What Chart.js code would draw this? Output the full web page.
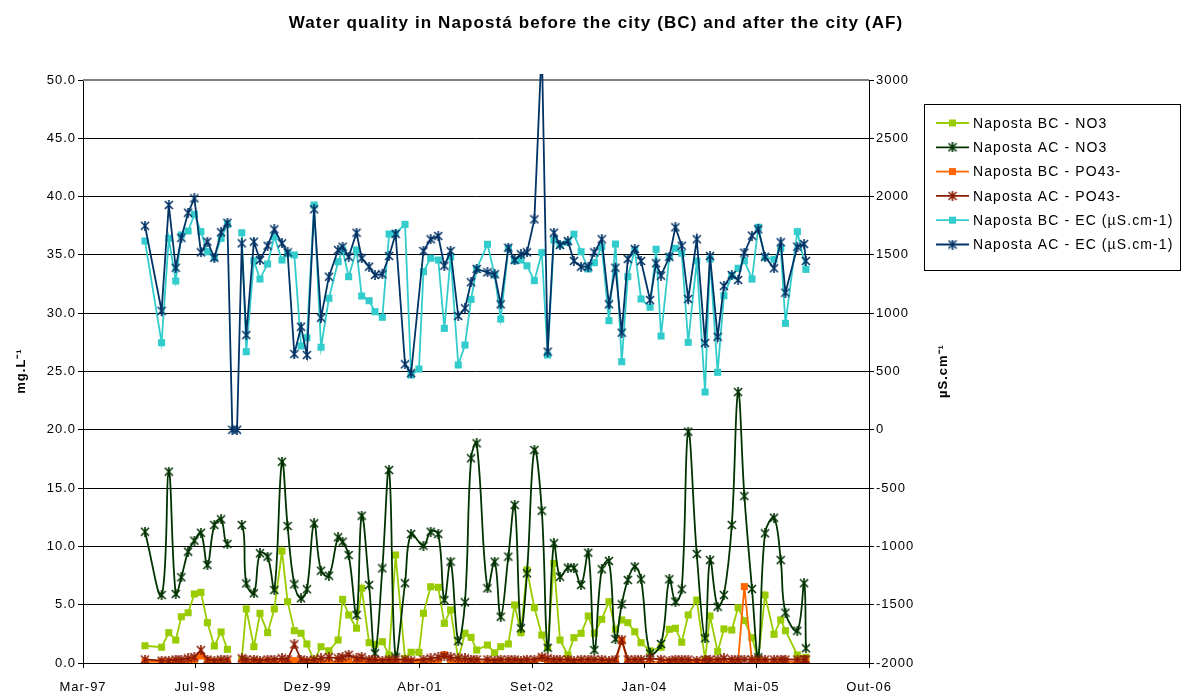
<!DOCTYPE html>
<html><head><meta charset="utf-8">
<script src="https://cdn.jsdelivr.net/npm/chart.js@4/dist/chart.umd.min.js"></script>
<style>html,body{margin:0;padding:0;background:#fff;}#wrap{width:1186px;height:697px;}</style>
</head><body><div id="wrap"><canvas id="c" width="1186" height="697"></canvas></div>
<script>
const chartTitle = 'Water quality in Napostá before the city (BC) and after the city (AF)';
const leftAxisTitle = 'mg.L⁻¹';
const rightAxisTitle = 'µS.cm⁻¹';
const monthNames = ['Jan','Fev','Mar','Abr','Mai','Jun','Jul','Ago','Set','Out','Nov','Dez'];
const seriesNames = ['Naposta BC - NO3','Naposta AC - NO3','Naposta BC - PO43-','Naposta AC - PO43-','Naposta BC - EC (µS.cm-1)','Naposta AC - EC (µS.cm-1)'];

const sampleDates = [
 '1997-12-12','1998-02-24','1998-03-28','1998-04-28','1998-05-23','1998-06-22','1998-07-20','1998-08-18','1998-09-16','1998-10-17',
 '1998-11-16','1998-12-14','1999-01-05','1999-01-26','1999-02-16','1999-03-08','1999-04-11','1999-05-08','1999-06-11','1999-07-11',
 '1999-08-14','1999-09-08','1999-10-08','1999-11-07','1999-12-03','2000-01-04','2000-02-04','2000-03-10','2000-04-20','2000-05-10',
 '2000-06-06','2000-07-11','2000-08-03','2000-09-05','2000-10-01','2000-11-03','2000-12-03','2001-01-01','2001-02-12','2001-03-11',
 '2001-04-15','2001-05-05','2001-06-06','2001-07-10','2001-08-06','2001-09-03','2001-10-07','2001-11-06','2001-12-03','2001-12-28',
 '2002-02-14','2002-03-18','2002-04-14','2002-05-18','2002-06-15','2002-07-13','2002-08-09','2002-09-11','2002-10-14','2002-11-09',
 '2002-12-07','2003-01-03','2003-02-07','2003-03-06','2003-04-07','2003-05-09','2003-06-05','2003-07-08','2003-08-09','2003-09-07',
 '2003-10-05','2003-11-01','2003-12-02','2003-12-30','2004-02-08','2004-03-06','2004-03-28','2004-05-04','2004-05-31','2004-06-28',
 '2004-07-27','2004-09-03','2004-10-10','2004-11-01','2004-12-05','2005-01-02','2005-02-06','2005-03-06','2005-04-03','2005-05-07',
 '2005-06-04','2005-07-04','2005-08-13','2005-09-12','2005-10-03','2005-11-25','2005-12-25','2006-01-02'];

const no3BC = [
 1.48,1.35,2.60,1.97,3.97,4.31,5.92,6.06,3.46,1.46,
 2.66,1.17,null,null,0.3,4.63,1.40,4.26,2.60,4.63,
 9.6,5.26,2.77,2.55,1.63,0.2,1.40,1.05,1.97,5.46,
 4.12,2.98,6.41,1.74,1.60,1.83,0.69,9.26,0.4,0.92,
 0.92,4.26,6.54,6.49,3.40,4.55,0.3,2.55,2.20,1.11,
 1.54,0.88,1.40,1.63,4.97,2.60,7.98,4.74,2.40,1.31,
 8.55,1.97,0.69,2.17,2.55,4.03,2.55,3.75,5.26,2.89,
 3.69,3.46,2.68,1.74,1.05,null,1.35,2.89,2.98,1.78,
 4.12,5.40,0.3,4.03,0.97,2.92,2.83,4.74,3.63,2.17,
 0.3,5.83,2.46,3.69,2.77,0.69,null,0.49];

const no3AC = [
 11.26,5.83,16.41,5.92,7.35,9.55,10.49,11.17,8.40,11.84,
 12.32,10.21,null,null,11.84,6.82,5.98,9.41,9.12,6.26,
 17.26,11.75,6.75,5.55,6.32,11.98,7.92,7.49,10.78,10.40,
 9.26,4.12,12.63,6.69,0.83,8.12,16.55,0.49,6.84,11.06,
 null,10.06,11.26,11.06,5.40,8.69,1.89,5.21,17.56,18.84,
 6.41,8.69,3.97,9.12,13.55,2.98,7.69,18.27,13.06,1.31,
 10.27,7.40,8.17,8.17,6.69,9.46,1.11,8.04,8.75,2.06,
 5.03,7.12,8.26,7.18,0.83,null,1.63,7.18,5.26,6.32,
 19.84,9.35,2.12,8.83,4.83,5.83,11.84,23.24,14.32,6.35,
 0.49,11.12,12.46,8.83,4.31,2.77,6.84,1.26];

const po4BC = [
 0.1,0.1,0.1,0.1,0.1,0.2,0.3,0.6,0.2,0.1,
 0.1,0.1,null,null,0.1,0.1,0.1,0.1,0.1,0.1,
 0.1,0.1,0.2,0.1,0.1,0.1,0.1,0.1,0.1,0.1,
 0.1,0.1,0.1,0.1,0.1,0.1,0.1,0.1,0.1,0.1,
 0.1,0.1,0.1,0.1,0.7,0.2,0.1,0.1,0.1,0.1,
 0.1,0.1,0.1,0.1,0.1,0.1,0.1,0.1,0.4,0.1,
 0.1,0.1,0.1,0.1,0.1,0.1,0.1,0.1,0.1,0.1,
 1.9,0.1,0.1,0.1,0.1,null,0.1,0.1,0.1,0.1,
 0.1,0.1,0.1,0.1,0.1,0.1,0.1,0.1,6.55,0.1,
 0.1,0.1,0.1,0.1,0.1,0.1,null,0.1];

const po4AC = [
 0.3,0.2,0.2,0.3,0.3,0.4,0.5,1.1,0.3,0.2,
 0.3,0.3,null,null,0.4,0.3,0.3,0.2,0.3,0.3,
 0.4,0.3,1.6,0.3,0.2,0.3,0.4,0.5,0.4,0.5,
 0.7,0.4,0.5,0.3,0.3,0.2,0.3,0.3,0.3,0.2,
 null,0.3,0.4,0.5,0.6,0.5,0.4,0.4,0.3,0.3,
 0.3,0.2,0.3,0.3,0.3,0.2,0.3,0.3,0.5,0.4,
 0.3,0.3,0.3,0.2,0.3,0.3,0.3,0.3,0.2,0.3,
 2.0,0.3,0.3,0.3,0.4,null,0.3,0.2,0.3,0.3,
 0.3,0.2,0.3,0.3,0.3,0.4,0.3,0.3,0.3,0.3,
 0.3,0.3,0.3,0.3,0.3,0.3,0.3,0.3];

const ecBC = [
 1619,747,1642,1276,1671,1705,1848,1699,1527,1476,
 1642,1762,null,null,1690,670,1450,1293,1422,1656,
 1456,1510,1499,719,790,1928,708,1128,1442,1542,
 1313,1542,1147,1107,1013,965,1679,1685,1762,470,
 521,1356,1471,1456,870,1484,556,727,1119,1379,
 1591,1330,950,1557,1450,1456,1407,1279,1519,641,
 1628,1585,1610,1677,1527,1379,1433,1570,936,1593,
 584,1313,1542,1122,1051,1548,804,1484,1557,1514,
 750,1448,324,1465,493,1150,1322,1385,1450,1293,
 1737,1479,1462,1557,913,1699,null,1376];

const ecAC = [
 1750,1021,1928,1390,1647,1862,1985,1522,1613,1476,
 1694,1776,0,0,1599,813,1613,1456,1579,1719,
 1599,1522,650,884,641,1891,961,1313,1542,1570,
 1484,1690,1471,1399,1328,1334,1491,1679,562,485,
 null,1533,1634,1662,1407,1533,976,1042,1265,1379,
 1351,1334,1076,1562,1456,1505,1522,1805,3300,670,
 1690,1585,1619,1448,1399,1399,1522,1634,1076,1390,
 833,1465,1551,1448,1113,1428,1322,1484,1737,1579,
 1122,1634,744,1491,798,1233,1328,1285,1519,1665,
 1719,1484,1385,1608,1176,1570,1593,1448];

const leftTicks = {min: 0, max: 50, step: 5};
const rightTicks = {min: -2000, max: 3000, step: 500};
const dateAxis = {min: 35500, max: 39000, step: 500}; // day serials (1900 date system)

const FONT = "'Liberation Sans', Arial, sans-serif";

function toSerial(s){ return Math.round(Date.parse(s + 'T00:00:00Z') / 86400000) + 25569; }
function serialLabel(v){ const d = new Date((v - 25569) * 86400000); return monthNames[d.getUTCMonth()] + '-' + String(d.getUTCFullYear()).slice(2); }
function points(arr){
  return sampleDates.map((d, i) => ({x: toSerial(d), y: arr[i]})).filter(q => q.y !== null);
}
// two or more consecutive blank samples break the line; a single missing sample is bridged
function breakAtBlanks(arr){
  const idx = arr.map((v, i) => v === null ? -1 : i).filter(i => i >= 0);
  return ctx => (idx[ctx.p1DataIndex] - idx[ctx.p0DataIndex] > 2 ? 'rgba(0,0,0,0)' : undefined);
}
function asterisk(color, size, lw){
  const c = document.createElement('canvas');
  c.width = c.height = size;
  const g = c.getContext('2d');
  g.strokeStyle = color; g.lineWidth = lw; g.lineCap = 'butt';
  const m = size / 2, r = size / 2 - 1;
  g.beginPath();
  g.moveTo(m - r, m - r); g.lineTo(m + r, m + r);
  g.moveTo(m + r, m - r); g.lineTo(m - r, m + r);
  g.moveTo(m, 0); g.lineTo(m, size);
  g.stroke();
  return c;
}
const C = {no3BC: '#99CC00', no3AC: '#003300', po4BC: '#FF6600', po4AC: '#8B1A00', ecBC: '#33CCCC', ecAC: '#003366'};

function ds(label, arr, color, axis, style, opts){
  opts = opts || {};
  const base = {
    label, data: points(arr), yAxisID: axis,
    borderColor: color, backgroundColor: color, borderWidth: 1.8,
    pointStyle: style === 'square' ? 'rect' : asterisk(color, 10, 1.6),
    pointRadius: 5, pointBorderWidth: 0,
    pointBackgroundColor: color, pointBorderColor: color,
    tension: opts.tension || 0, spanGaps: true, fill: false,
    segment: {borderColor: breakAtBlanks(arr)}
  };
  return Object.assign(base, opts.extra || {});
}

const datasets = [
  ds(seriesNames[0], no3BC, C.no3BC, 'y', 'square'),
  ds(seriesNames[1], no3AC, C.no3AC, 'y', 'star', {tension: 0.4}),
  ds(seriesNames[2], po4BC, C.po4BC, 'y', 'square'),
  ds(seriesNames[3], po4AC, C.po4AC, 'y', 'star'),
  ds(seriesNames[4], ecBC, C.ecBC, 'y2', 'square'),
  ds(seriesNames[5], ecAC, C.ecAC, 'y2', 'star', {extra: {clip: {left: 0, right: 0, top: 6, bottom: 0}}})
];
datasets.forEach((d, i) => { d.order = datasets.length - 1 - i; });

const AREA = {left: 83, right: 869, top: 80, bottom: 663};

const decor = {
  id: 'decor',
  beforeDraw(chart){ chart.ctx.letterSpacing = '1px'; },
  beforeDatasetsDraw(chart){
    const ctx = chart.ctx;
    ctx.save();
    ctx.strokeStyle = '#808080'; ctx.lineWidth = 2;
    ctx.beginPath(); ctx.moveTo(AREA.left, AREA.top); ctx.lineTo(AREA.right, AREA.top); ctx.stroke();
    ctx.restore();
  },
  afterDraw(chart){
    const ctx = chart.ctx;
    ctx.save();
    ctx.fillStyle = '#000';
    ctx.textAlign = 'center'; ctx.textBaseline = 'middle';
    ctx.letterSpacing = '1.1px';
    ctx.font = 'bold 17px ' + FONT;
    ctx.fillText(chartTitle, 596, 23);
    ctx.letterSpacing = '1px';
    ctx.font = 'bold 13px ' + FONT;
    ctx.save(); ctx.translate(21, 371); ctx.rotate(-Math.PI / 2); ctx.fillText(leftAxisTitle, 0, 0); ctx.restore();
    ctx.save(); ctx.translate(943, 371); ctx.rotate(-Math.PI / 2); ctx.fillText(rightAxisTitle, 0, 0); ctx.restore();
    const bx = 924.5, by = 104.5, bw = 256, bh = 166;
    ctx.fillStyle = '#fff'; ctx.fillRect(bx, by, bw, bh);
    ctx.strokeStyle = '#000'; ctx.lineWidth = 1; ctx.strokeRect(bx, by, bw, bh);
    ctx.font = '14px ' + FONT; ctx.textAlign = 'left'; ctx.letterSpacing = '1.1px';
    chart.data.datasets.forEach((d, i) => {
      const y = 123 + i * 24.3;
      ctx.strokeStyle = d.borderColor; ctx.lineWidth = 1.8;
      ctx.beginPath(); ctx.moveTo(936, y); ctx.lineTo(969, y); ctx.stroke();
      if (d.pointStyle === 'rect') { ctx.fillStyle = d.backgroundColor; ctx.fillRect(952.5 - 3.5, y - 3.5, 7, 7); }
      else { Chart.helpers.drawPoint(ctx, {pointStyle: d.pointStyle, radius: d.pointRadius, rotation: 0, borderWidth: 0}, 952.5, y); }
      ctx.fillStyle = '#000';
      ctx.fillText(d.label, 973, y + 1);
    });
    ctx.restore();
  }
};

new Chart(document.getElementById('c'), {
  type: 'line',
  data: {datasets},
  plugins: [decor],
  options: {
    responsive: false, animation: false, devicePixelRatio: 1,
    layout: {padding: {top: AREA.top, left: 0, right: 0, bottom: 0}},
    plugins: {legend: {display: false}, title: {display: false}, tooltip: {enabled: false}},
    scales: {
      x: {
        type: 'linear', position: 'bottom', min: dateAxis.min, max: dateAxis.max,
        afterFit(s){ s.height = 697 - AREA.bottom; },
        ticks: {stepSize: dateAxis.step, callback: v => serialLabel(v), color: '#000', font: {family: FONT, size: 13}, padding: 12, maxRotation: 0, autoSkip: false},
        grid: {display: true, drawOnChartArea: false, drawTicks: true, tickLength: 5, color: '#000'},
        border: {display: true, color: '#000', width: 1}
      },
      y: {
        type: 'linear', position: 'left', min: leftTicks.min, max: leftTicks.max,
        afterFit(s){ s.width = AREA.left; },
        ticks: {stepSize: leftTicks.step, callback: v => v.toFixed(1), color: '#000', font: {family: FONT, size: 13}, padding: 2},
        grid: {display: true, color: '#000', lineWidth: 1, drawTicks: true, tickLength: 5},
        border: {display: true, color: '#000', width: 1}
      },
      y2: {
        type: 'linear', position: 'right', min: rightTicks.min, max: rightTicks.max,
        afterFit(s){ s.width = 1186 - AREA.right; },
        ticks: {stepSize: rightTicks.step, callback: v => String(v), color: '#000', font: {family: FONT, size: 13}, padding: 2},
        grid: {display: true, drawOnChartArea: false, drawTicks: true, tickLength: 5, color: '#000'},
        border: {display: true, color: '#000', width: 1}
      }
    }
  }
});
</script>
</body></html>
